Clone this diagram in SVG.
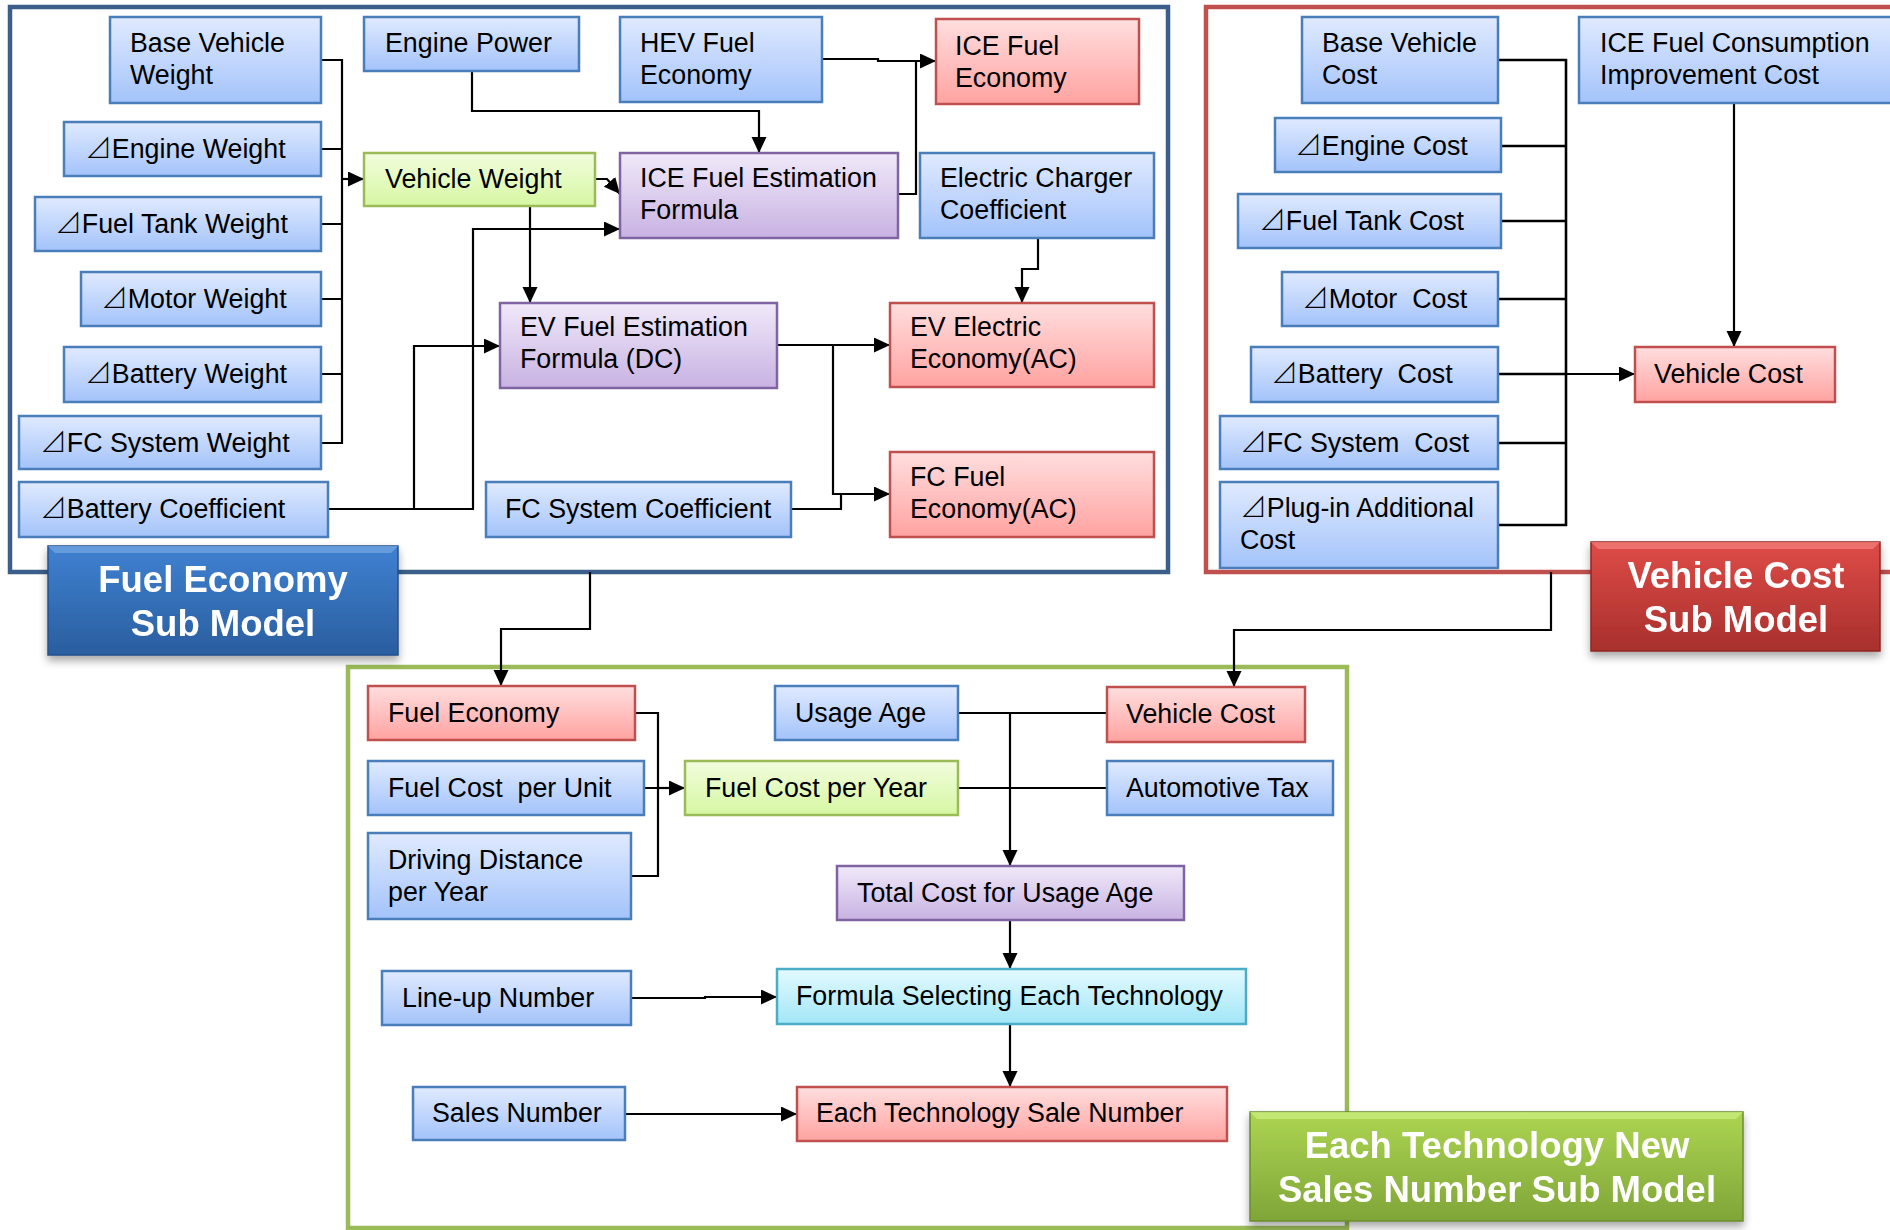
<svg xmlns="http://www.w3.org/2000/svg" width="1890" height="1230" viewBox="0 0 1890 1230">
<style>
.t{font-family:"Liberation Sans",Arial,"DejaVu Sans",sans-serif;font-size:26.8px;fill:#000;white-space:pre}
.d{font-family:"Noto Sans CJK JP","Noto Sans CJK SC","DejaVu Sans",sans-serif;font-weight:300}
.h{font-family:"Liberation Sans",Arial,"DejaVu Sans",sans-serif;font-size:36.5px;font-weight:bold;fill:#fff;text-anchor:middle}
.blue{fill:url(#gBlue);stroke:#4A7EBB;stroke-width:2.5}
.red{fill:url(#gRed);stroke:#C0504D;stroke-width:2.5}
.pur{fill:url(#gPur);stroke:#8064A2;stroke-width:2.5}
.grn{fill:url(#gGrn);stroke:#9BBB59;stroke-width:2.5}
.cyn{fill:url(#gCyn);stroke:#4BACC6;stroke-width:2.5}
.c{fill:none;stroke:#000;stroke-width:2.2}
.a{fill:none;stroke:#000;stroke-width:2.2;marker-end:url(#arr)}
.frame{fill:none;stroke-width:4.5}
</style>
<defs>
<linearGradient id="gBlue" x1="0" y1="0" x2="0" y2="1"><stop offset="0" stop-color="#E0EAFF"/><stop offset="1" stop-color="#A3C3FA"/></linearGradient>
<linearGradient id="gRed" x1="0" y1="0" x2="0" y2="1"><stop offset="0" stop-color="#FFDEDE"/><stop offset="1" stop-color="#FFA3A1"/></linearGradient>
<linearGradient id="gPur" x1="0" y1="0" x2="0" y2="1"><stop offset="0" stop-color="#F0E9F9"/><stop offset="1" stop-color="#C8B2E2"/></linearGradient>
<linearGradient id="gGrn" x1="0" y1="0" x2="0" y2="1"><stop offset="0" stop-color="#F2FDDE"/><stop offset="1" stop-color="#D6F7A2"/></linearGradient>
<linearGradient id="gCyn" x1="0" y1="0" x2="0" y2="1"><stop offset="0" stop-color="#E3FAFF"/><stop offset="1" stop-color="#A2E6F7"/></linearGradient>
<linearGradient id="tBlue" x1="0" y1="0" x2="0" y2="1"><stop offset="0" stop-color="#3F81D1"/><stop offset="1" stop-color="#2A5E9F"/></linearGradient>
<linearGradient id="tRed" x1="0" y1="0" x2="0" y2="1"><stop offset="0" stop-color="#DE4B47"/><stop offset="1" stop-color="#A8302D"/></linearGradient>
<linearGradient id="tGrn" x1="0" y1="0" x2="0" y2="1"><stop offset="0" stop-color="#ADD551"/><stop offset="1" stop-color="#7FA538"/></linearGradient>
<filter id="sh" x="-10%" y="-10%" width="120%" height="130%"><feDropShadow dx="0" dy="5" stdDeviation="4" flood-color="#000" flood-opacity="0.35"/></filter>
<marker id="arr" markerUnits="userSpaceOnUse" markerWidth="17" markerHeight="16" refX="16" refY="7.5" orient="auto"><path d="M0,0 L16,7.5 L0,15 z" fill="#000"/></marker>
</defs>

<g id="frames">
<rect class="frame" x="10" y="7" width="1158" height="565" stroke="#3B5F8A"/>
<rect class="frame" x="1206" y="7" width="700" height="565" stroke="#C0504D"/>
<rect class="frame" x="348" y="667" width="999" height="561" stroke="#9BBB59"/>
</g>

<g id="connectors">
<path class="c" d="M321,60 H342 V443 H321 M321,149 H342 M321,224 H342 M321,299 H342 M321,374 H342"/>
<path class="a" d="M342,179 H364"/>
<path class="a" d="M472,71 V111 H759 V153"/>
<path class="a" d="M595,179 H607 L620,194"/>
<path class="a" d="M530,206 V303"/>
<path class="a" d="M328,509 H473 V229 H620"/>
<path class="a" d="M414,509 V346 H500"/>
<path class="a" d="M822,59 H878 V61 H936"/>
<path class="c" d="M898,194 H916 V61"/>
<path class="a" d="M1038,238 V269 H1022 V303"/>
<path class="a" d="M777,345 H890"/>
<path class="a" d="M833,345 V494 H890"/>
<path class="c" d="M791,509 H841 V494"/>
<path class="a" d="M590,572 V629 H501 V686"/>
<path class="c" d="M1498,60 H1566 V525 H1498 M1501,146 H1566 M1501,221 H1566 M1498,299 H1566 M1498,374 H1566 M1498,443 H1566" style="stroke-width:2.6"/>
<path class="a" d="M1566,374 H1635"/>
<path class="a" d="M1734,103 V347"/>
<path class="a" d="M1551,572 V630 H1234 V687"/>
<path class="c" d="M635,713 H658 V876 H631 M644,788 H658"/>
<path class="a" d="M658,788 H685"/>
<path class="c" d="M958,713 H1107 M958,788 H1107"/>
<path class="a" d="M1010,713 V866"/>
<path class="a" d="M1010,920 V969"/>
<path class="a" d="M631,998 H705 V997 H777"/>
<path class="a" d="M625,1114 H797"/>
<path class="a" d="M1010,1024 V1087"/>
</g>

<g id="n-base-vehicle-weight"><rect class="blue" x="110" y="17" width="211" height="86"/><text class="t" x="130" y="52">Base Vehicle</text><text class="t" x="130" y="84">Weight</text></g>
<g id="n-engine-weight"><rect class="blue" x="64" y="122" width="257" height="54"/><text class="t" x="85" y="158"><tspan class="d">⊿</tspan>Engine Weight</text></g>
<g id="n-fuel-tank-weight"><rect class="blue" x="35" y="197" width="286" height="54"/><text class="t" x="55" y="233"><tspan class="d">⊿</tspan>Fuel Tank Weight</text></g>
<g id="n-motor-weight"><rect class="blue" x="81" y="272" width="240" height="54"/><text class="t" x="101" y="308"><tspan class="d">⊿</tspan>Motor Weight</text></g>
<g id="n-battery-weight"><rect class="blue" x="64" y="347" width="257" height="55"/><text class="t" x="85" y="383"><tspan class="d">⊿</tspan>Battery Weight</text></g>
<g id="n-fc-system-weight"><rect class="blue" x="19" y="416" width="302" height="53"/><text class="t" x="40" y="452"><tspan class="d">⊿</tspan>FC System Weight</text></g>
<g id="n-battery-coefficient"><rect class="blue" x="19" y="482" width="309" height="55"/><text class="t" x="40" y="518"><tspan class="d">⊿</tspan>Battery Coefficient</text></g>
<g id="n-engine-power"><rect class="blue" x="364" y="17" width="215" height="54"/><text class="t" x="385" y="52">Engine Power</text></g>
<g id="n-vehicle-weight"><rect class="grn" x="364" y="153" width="231" height="53"/><text class="t" x="385" y="188">Vehicle Weight</text></g>
<g id="n-hev-fuel-economy"><rect class="blue" x="620" y="17" width="202" height="85"/><text class="t" x="640" y="52">HEV Fuel</text><text class="t" x="640" y="84">Economy</text></g>
<g id="n-ice-fuel-economy"><rect class="red" x="936" y="19" width="203" height="85"/><text class="t" x="955" y="55">ICE Fuel</text><text class="t" x="955" y="87">Economy</text></g>
<g id="n-ice-fuel-estimation"><rect class="pur" x="620" y="153" width="278" height="85"/><text class="t" x="640" y="187">ICE Fuel Estimation</text><text class="t" x="640" y="219">Formula</text></g>
<g id="n-electric-charger"><rect class="blue" x="920" y="153" width="234" height="85"/><text class="t" x="940" y="187">Electric Charger</text><text class="t" x="940" y="219">Coefficient</text></g>
<g id="n-ev-fuel-estimation"><rect class="pur" x="500" y="303" width="277" height="85"/><text class="t" x="520" y="336">EV Fuel Estimation</text><text class="t" x="520" y="368">Formula (DC)</text></g>
<g id="n-ev-electric-economy"><rect class="red" x="890" y="303" width="264" height="84"/><text class="t" x="910" y="336">EV Electric</text><text class="t" x="910" y="368">Economy(AC)</text></g>
<g id="n-fc-fuel-economy"><rect class="red" x="890" y="452" width="264" height="85"/><text class="t" x="910" y="486">FC Fuel</text><text class="t" x="910" y="518">Economy(AC)</text></g>
<g id="n-fc-system-coefficient"><rect class="blue" x="486" y="482" width="305" height="55"/><text class="t" x="505" y="518">FC System Coefficient</text></g>

<g id="n-base-vehicle-cost"><rect class="blue" x="1302" y="17" width="196" height="86"/><text class="t" x="1322" y="52">Base Vehicle</text><text class="t" x="1322" y="84">Cost</text></g>
<g id="n-ice-fuel-consumption"><rect class="blue" x="1579" y="17" width="320" height="86"/><text class="t" x="1600" y="52">ICE Fuel Consumption</text><text class="t" x="1600" y="84">Improvement Cost</text></g>
<g id="n-engine-cost"><rect class="blue" x="1275" y="118" width="226" height="54"/><text class="t" x="1295" y="155"><tspan class="d">⊿</tspan>Engine Cost</text></g>
<g id="n-fuel-tank-cost"><rect class="blue" x="1238" y="194" width="263" height="54"/><text class="t" x="1259" y="230"><tspan class="d">⊿</tspan>Fuel Tank Cost</text></g>
<g id="n-motor-cost"><rect class="blue" x="1282" y="272" width="216" height="54"/><text class="t" x="1302" y="308"><tspan class="d">⊿</tspan>Motor  Cost</text></g>
<g id="n-battery-cost"><rect class="blue" x="1251" y="347" width="247" height="55"/><text class="t" x="1271" y="383"><tspan class="d">⊿</tspan>Battery  Cost</text></g>
<g id="n-fc-system-cost"><rect class="blue" x="1220" y="416" width="278" height="53"/><text class="t" x="1240" y="452"><tspan class="d">⊿</tspan>FC System  Cost</text></g>
<g id="n-plugin-cost"><rect class="blue" x="1220" y="482" width="278" height="86"/><text class="t" x="1240" y="517"><tspan class="d">⊿</tspan>Plug-in Additional</text><text class="t" x="1240" y="549">Cost</text></g>
<g id="n-vehicle-cost"><rect class="red" x="1635" y="347" width="200" height="55"/><text class="t" x="1654" y="383">Vehicle Cost</text></g>

<g id="n-fuel-economy"><rect class="red" x="368" y="686" width="267" height="54"/><text class="t" x="388" y="722">Fuel Economy</text></g>
<g id="n-fuel-cost-unit"><rect class="blue" x="368" y="761" width="276" height="54"/><text class="t" x="388" y="797">Fuel Cost  per Unit</text></g>
<g id="n-driving-distance"><rect class="blue" x="368" y="833" width="263" height="86"/><text class="t" x="388" y="869">Driving Distance</text><text class="t" x="388" y="901">per Year</text></g>
<g id="n-fuel-cost-year"><rect class="grn" x="685" y="761" width="273" height="54"/><text class="t" x="705" y="797">Fuel Cost per Year</text></g>
<g id="n-usage-age"><rect class="blue" x="775" y="686" width="183" height="54"/><text class="t" x="795" y="722">Usage Age</text></g>
<g id="n-vehicle-cost-2"><rect class="red" x="1107" y="687" width="198" height="55"/><text class="t" x="1126" y="723">Vehicle Cost</text></g>
<g id="n-automotive-tax"><rect class="blue" x="1107" y="761" width="226" height="54"/><text class="t" x="1126" y="797">Automotive Tax</text></g>
<g id="n-total-cost"><rect class="pur" x="837" y="866" width="347" height="54"/><text class="t" x="857" y="902">Total Cost for Usage Age</text></g>
<g id="n-line-up"><rect class="blue" x="382" y="971" width="249" height="54"/><text class="t" x="402" y="1007">Line-up Number</text></g>
<g id="n-formula-selecting"><rect class="cyn" x="777" y="969" width="469" height="55"/><text class="t" x="796" y="1005">Formula Selecting Each Technology</text></g>
<g id="n-sales-number"><rect class="blue" x="413" y="1087" width="212" height="53"/><text class="t" x="432" y="1122">Sales Number</text></g>
<g id="n-each-tech-sale"><rect class="red" x="797" y="1087" width="430" height="54"/><text class="t" x="816" y="1122">Each Technology Sale Number</text></g>

<g id="title-fuel-economy" filter="url(#sh)"><rect x="48" y="546" width="350" height="109" fill="url(#tBlue)" stroke="#24508A" stroke-width="1.5"/><path d="M48,546 H398 L391,553 H55 Z" fill="#6FA2E0" opacity="0.8"/><text class="h" x="223" y="592">Fuel Economy</text><text class="h" x="223" y="636">Sub Model</text></g>
<g id="title-vehicle-cost" filter="url(#sh)"><rect x="1591" y="542" width="289" height="109" fill="url(#tRed)" stroke="#8E2624" stroke-width="1.5"/><path d="M1591,542 H1880 L1873,549 H1598 Z" fill="#F07A77" opacity="0.8"/><text class="h" x="1736" y="588">Vehicle Cost</text><text class="h" x="1736" y="632">Sub Model</text></g>
<g id="title-sales-number" filter="url(#sh)"><rect x="1250" y="1112" width="493" height="109" fill="url(#tGrn)" stroke="#6A8C2C" stroke-width="1.5"/><path d="M1250,1112 H1743 L1736,1119 H1257 Z" fill="#C9EC7C" opacity="0.8"/><text class="h" x="1497" y="1158">Each Technology New</text><text class="h" x="1497" y="1202">Sales Number Sub Model</text></g>
</svg>
